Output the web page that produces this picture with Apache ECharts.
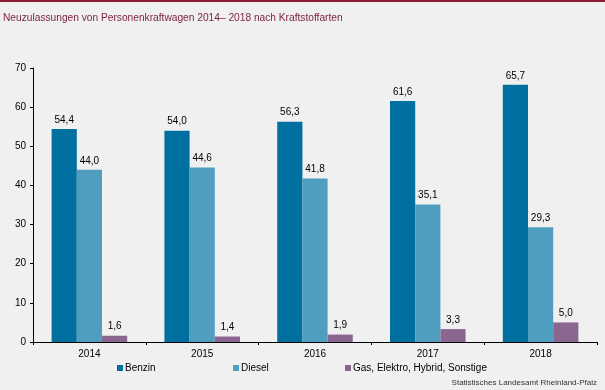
<!DOCTYPE html>
<html>
<head>
<meta charset="utf-8">
<script src="https://cdn.jsdelivr.net/npm/echarts@6/dist/echarts.min.js"></script>
<style>
html,body{margin:0;padding:0;background:#eff0ef;}
#c{width:605px;height:390px;}
</style>
</head>
<body>
<div id="c"></div>
<script>
const categories = ['2014', '2015', '2016', '2017', '2018'];
const benzin = [54.4, 54.0, 56.3, 61.6, 65.7];
const diesel = [44.0, 44.6, 41.8, 35.1, 29.3];
const sonstige = [1.6, 1.4, 1.9, 3.3, 5.0];
const seriesNames = ['Benzin', 'Diesel', 'Gas, Elektro, Hybrid, Sonstige'];
const yTicks = [0, 10, 20, 30, 40, 50, 60, 70];

const chart = echarts.init(document.getElementById('c'), null, {renderer: 'canvas'});
const FF = 'Liberation Sans, Arial';
const fmt = p => p.value.toFixed(1).replace('.', ',');
const lbl = {show: true, position: 'top', distance: 4, formatter: fmt, color: '#000', fontFamily: FF, fontSize: 10};
const legendLefts = [117, 233, 345];
chart.setOption({
  backgroundColor: '#eff0ef',
  animation: false,
  graphic: [
    {type: 'rect', left: 0, top: 0, shape: {width: 605, height: 2}, style: {fill: '#8b1a35'}},
    {type: 'text', left: 3, top: 13, style: {text: 'Neuzulassungen von Personenkraftwagen 2014\u2013 2018 nach Kraftstoffarten', fill: '#7a1f3d', font: '10.2px "Liberation Sans", Arial'}},
    {type: 'text', right: 8, top: 379, style: {text: 'Statistisches Landesamt Rheinland-Pfalz', fill: '#333', font: '8px "Liberation Sans", Arial'}}
  ],
  grid: {left: 33, right: 8, top: 68, bottom: 48, containLabel: false},
  legend: seriesNames.map((n, i) => ({
    left: legendLefts[i], top: 363, itemWidth: 6, itemHeight: 6, icon: 'rect', padding: 0,
    textStyle: {color: '#000', fontFamily: FF, fontSize: 10, padding: [0, 0, 0, -3]},
    data: [n]
  })),
  xAxis: {
    type: 'category', data: categories,
    axisLine: {lineStyle: {color: '#000', width: 1}},
    axisTick: {show: true, length: 3, lineStyle: {color: '#000'}},
    axisLabel: {color: '#000', fontFamily: FF, fontSize: 10, margin: 7}
  },
  yAxis: {
    type: 'value', min: yTicks[0], max: yTicks[yTicks.length - 1], interval: 10,
    axisLine: {show: true, lineStyle: {color: '#000', width: 1}},
    axisTick: {show: true, length: 3, lineStyle: {color: '#000'}},
    splitLine: {show: false},
    axisLabel: {color: '#000', fontFamily: FF, fontSize: 10, margin: 7}
  },
  series: [
    {name: seriesNames[0], type: 'bar', data: benzin, itemStyle: {color: '#0070a1'}, barGap: '0%', barCategoryGap: '33%', label: lbl},
    {name: seriesNames[1], type: 'bar', data: diesel, itemStyle: {color: '#4f9ec0'}, label: lbl},
    {name: seriesNames[2], type: 'bar', data: sonstige, itemStyle: {color: '#8a6691'}, label: lbl}
  ]
});
</script>
</body>
</html>
